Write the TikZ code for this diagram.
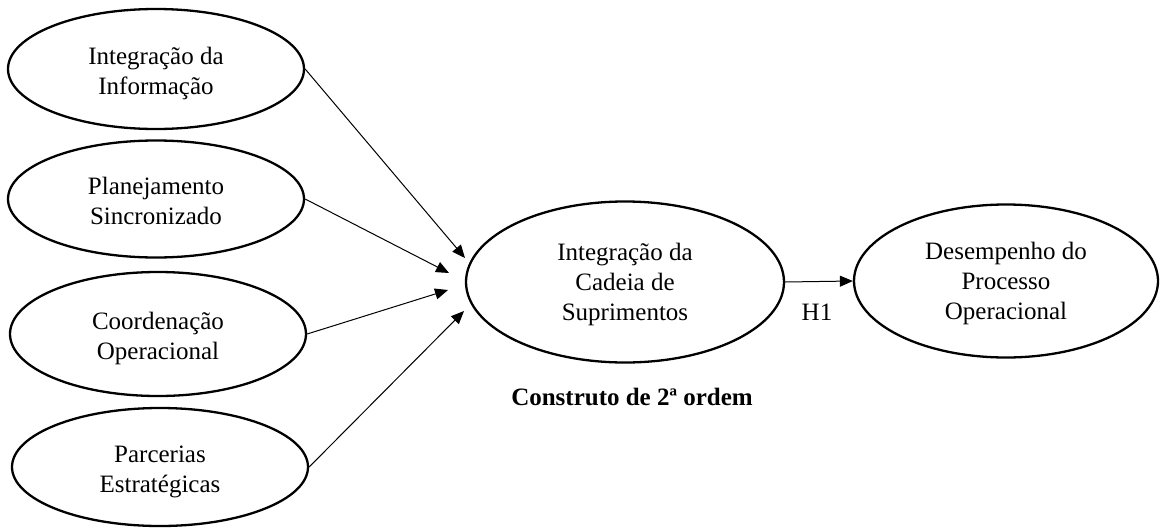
\documentclass[tikz,border=0pt]{standalone}
\usepackage{fontspec}
\setmainfont{Liberation Serif}
\usetikzlibrary{shapes.geometric,arrows.meta}
\newcommand\lowtxt[2][4pt]{\raisebox{-#1}[\height][\depth]{\begin{tabular}{@{}c@{}}#2\end{tabular}}}
\begin{document}
\begin{tikzpicture}[x=1pt,y=-1pt,
  constr/.style={ellipse,draw,line width=2.3pt,inner sep=0pt,
    font=\fontsize{25}{30}\selectfont},
  conn/.style={line width=1pt,-{Triangle[length=13pt,width=11pt]}},
  lbl/.style={inner sep=0pt,font=\fontsize{25}{30}\selectfont}]
\useasboundingbox (0,0) rectangle (1161,530);
\node[constr,minimum width=296pt,minimum height=120pt] (e1) at (156,69) {\lowtxt{Integração da\\Informação}};
\node[constr,minimum width=296pt,minimum height=117pt] (e2) at (156,199) {\lowtxt{Planejamento\\Sincronizado}};
\node[constr,minimum width=296pt,minimum height=124pt] (e3) at (158,334) {\lowtxt{Coordenação\\Operacional}};
\node[constr,minimum width=296pt,minimum height=118pt] (e4) at (160,467) {\lowtxt{Parcerias\\Estratégicas}};
\node[constr,minimum width=318pt,minimum height=161pt] (sc) at (625,282) {\lowtxt[2.5pt]{Integração da\\Cadeia de\\Suprimentos}};
\node[constr,minimum width=304pt,minimum height=153pt] (dp) at (1006,281) {\lowtxt[2pt]{Desempenho do\\Processo\\Operacional}};
\coordinate (t1) at (465,258);
\coordinate (t2) at (449,273);
\coordinate (t3) at (448,290);
\coordinate (t4) at (464,311);
\draw[conn] (e1.east) -- (t1);
\draw[conn] (e2.east) -- (t2);
\draw[conn] (e3.east) -- (t3);
\draw[conn] (e4.east) -- (t4);
\draw[conn] (sc.east) -- (dp.west);
\node[lbl] (h1) at (817,312) {H1};
\node[lbl,font=\fontsize{25}{30}\selectfont\bfseries] (co) at (632,397) {Construto de 2ª ordem};
\end{tikzpicture}
\end{document}
